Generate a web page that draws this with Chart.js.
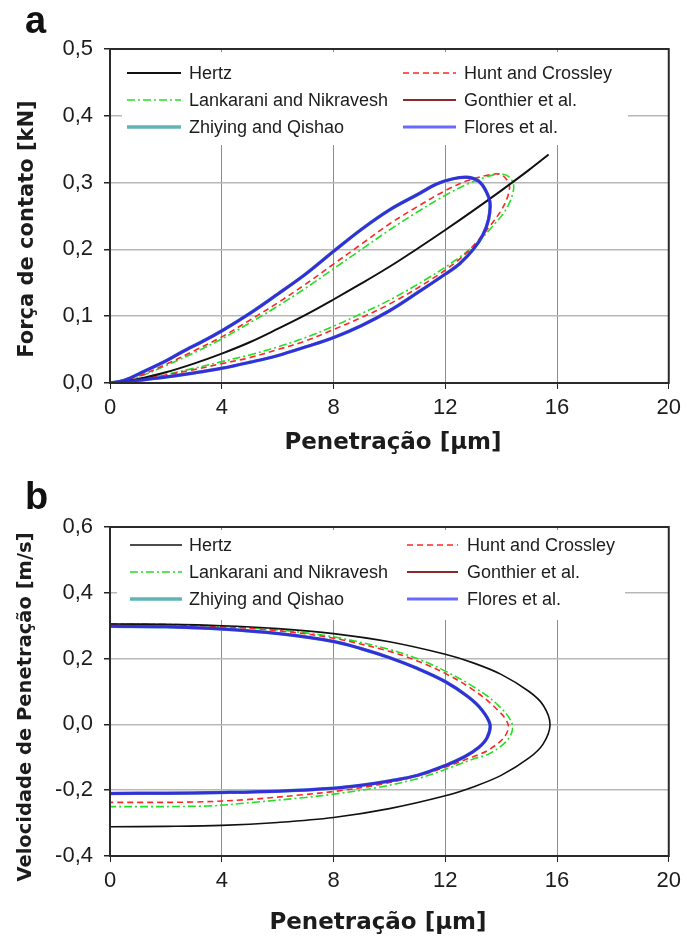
<!DOCTYPE html>
<html>
<head>
<meta charset="utf-8">
<script src="https://cdn.jsdelivr.net/npm/chart.js@4.4.0/dist/chart.umd.min.js"></script>
<style>
  body { margin: 0; background: #fff; }
  #wrap { position: relative; width: 687px; height: 940px; }
  canvas { position: absolute; left: 0; }
</style>
</head>
<body>
<div id="wrap">
  <canvas id="chart-a" width="687" height="470" style="top:0"></canvas>
  <canvas id="chart-b" width="687" height="470" style="top:470px"></canvas>
</div>
<script>
// ---- panel a: contact force vs penetration ----
const hertzPenA = [0, 1, 2, 3, 4, 5, 6, 7, 8, 9, 10, 11, 12, 13, 14, 15, 15.7];
const hertzForceA = [0, 0.006, 0.016, 0.029, 0.044, 0.061, 0.081, 0.102, 0.125, 0.149, 0.174, 0.201, 0.229, 0.258, 0.288, 0.319, 0.342];

const huntPenA = [0, 1, 2, 3, 4, 5, 6, 7, 8, 9, 10, 11, 12, 12.8, 13.5, 13.9, 14.15, 14.3, 14.2, 13.95, 13.6, 13.1, 12.5, 11.5, 10, 9, 8, 7, 6, 5, 4, 3, 2, 1, 0.3];
const huntForceA = [0, 0.01, 0.028, 0.048, 0.069, 0.094, 0.12, 0.148, 0.178, 0.208, 0.238, 0.264, 0.288, 0.303, 0.311, 0.313, 0.307, 0.295, 0.275, 0.255, 0.235, 0.21, 0.185, 0.155, 0.118, 0.098, 0.08, 0.063, 0.05, 0.038, 0.029, 0.02, 0.012, 0.005, 0];

const lankPenA = [0, 1, 2, 3, 4, 5, 6, 7, 8, 9, 10, 11, 12, 12.8, 13.5, 14, 14.3, 14.45, 14.35, 14.1, 13.7, 13.2, 12.5, 11.5, 10, 9, 8, 7, 6, 5, 4, 3, 2, 1, 0.3];
const lankForceA = [0, 0.009, 0.026, 0.045, 0.066, 0.09, 0.115, 0.142, 0.171, 0.2, 0.229, 0.256, 0.281, 0.298, 0.309, 0.313, 0.308, 0.295, 0.275, 0.255, 0.235, 0.212, 0.188, 0.16, 0.124, 0.104, 0.085, 0.068, 0.054, 0.042, 0.032, 0.022, 0.013, 0.006, 0.001];

// Flores, Gonthier and Zhiying lie on top of each other
const floresPenA = [0, 0.5, 1.2, 2, 2.6, 3.3, 4, 5, 6, 7, 8, 9, 10, 11, 11.7, 12.3, 12.8, 13.2, 13.45, 13.6, 13.55, 13.35, 13, 12.5, 12, 11, 10, 9, 8, 7, 6, 5, 4, 3, 2, 1, 0.4];
const floresForceA = [0, 0.004, 0.017, 0.033, 0.047, 0.062, 0.078, 0.104, 0.133, 0.163, 0.197, 0.23, 0.259, 0.282, 0.298, 0.306, 0.308, 0.302, 0.288, 0.27, 0.245, 0.222, 0.2, 0.178, 0.163, 0.135, 0.108, 0.086, 0.068, 0.054, 0.041, 0.031, 0.022, 0.015, 0.009, 0.004, 0.001];

// ---- panel b: penetration velocity vs penetration ----
const hertzPenB = [0, 2, 4, 6, 8, 10, 12, 13, 14, 15, 15.5, 15.75, 15.5, 15, 14, 13, 12, 10, 8, 6, 4, 2, 0];
const hertzVelB = [0.305, 0.304, 0.3, 0.291, 0.276, 0.251, 0.213, 0.187, 0.152, 0.1, 0.059, 0, -0.06, -0.102, -0.155, -0.19, -0.217, -0.256, -0.283, -0.298, -0.307, -0.31, -0.311];

const huntPenB = [0, 2, 4, 6, 8, 10, 11, 12, 13, 13.8, 14.25, 14.1, 13.5, 13, 12, 11, 9.5, 8, 7, 5, 3, 0];
const huntVelB = [0.304, 0.303, 0.297, 0.285, 0.262, 0.222, 0.193, 0.155, 0.105, 0.05, 0, -0.04, -0.08, -0.098, -0.13, -0.157, -0.185, -0.204, -0.213, -0.228, -0.236, -0.237];

const lankPenB = [0, 2, 4, 6, 8, 10, 11, 12, 13, 13.9, 14.4, 14.25, 13.6, 13, 12, 11, 9.5, 8, 7, 5, 3.5, 0];
const lankVelB = [0.305, 0.304, 0.298, 0.287, 0.266, 0.228, 0.2, 0.162, 0.115, 0.058, 0, -0.045, -0.088, -0.105, -0.137, -0.165, -0.193, -0.212, -0.222, -0.238, -0.248, -0.25];

const floresPenB = [0, 2, 4, 6, 8, 9, 10, 11, 12, 12.8, 13.3, 13.6, 13.5, 13.2, 12.7, 12, 11, 10, 9, 8, 6, 4, 2, 0];
const floresVelB = [0.298, 0.297, 0.29, 0.276, 0.252, 0.23, 0.203, 0.17, 0.13, 0.085, 0.045, 0, -0.04, -0.07, -0.098, -0.125, -0.155, -0.172, -0.185, -0.194, -0.203, -0.207, -0.209, -0.21];

const seriesNames = ['Hertz', 'Hunt and Crossley', 'Lankarani and Nikravesh', 'Gonthier et al.', 'Zhiying and Qishao', 'Flores et al.'];
const xTicks = [0, 4, 8, 12, 16, 20];

const TXT = '#1c1c1c';

function pts(xs, ys) {
    return xs.map((x, i) => ({x: x, y: ys[i]}));
}

function makeSets(h, hc, ln, fl, hw) {
    return [
        {label: seriesNames[0], data: h, borderColor: '#111111', borderWidth: hw, order: 2},
        {label: seriesNames[1], data: hc, borderColor: '#ff2626', borderWidth: 1.6, borderDash: [6, 4], order: 3},
        {label: seriesNames[2], data: ln, borderColor: '#22e022', borderWidth: 1.6, borderDash: [8, 3, 2, 3], order: 4},
        {label: seriesNames[3], data: fl, borderColor: '#8b2a2a', borderWidth: 2, order: 5},
        {label: seriesNames[4], data: fl, borderColor: '#5fb5b5', borderWidth: 3.5, order: 6},
        {label: seriesNames[5], data: fl, borderColor: 'rgba(45,45,235,0.9)', borderWidth: 3, order: 1,
         legendColor: '#6a6aff'}
    ];
}

// white legend box inside the plot, frame, panel letter and axis titles
const decor = {
    id: 'decor',
    afterDatasetsDraw(chart, args, o) {
        const ctx = chart.ctx;
        ctx.save();
        ctx.fillStyle = '#fff';
        ctx.fillRect(o.box[0], o.box[1], o.box[2] - o.box[0], o.box[3] - o.box[1]);
        ctx.font = '18px "Liberation Sans", Arial, sans-serif';
        ctx.textBaseline = 'middle';
        ctx.fillStyle = TXT;
        chart.data.datasets.forEach((ds, i) => {
            const row = Math.floor(i / 2), col = o.cols[i % 2];
            const y = o.rows[row];
            ctx.beginPath();
            ctx.strokeStyle = ds.legendColor || ds.borderColor;
            ctx.lineWidth = ds.borderWidth;
            ctx.setLineDash(ds.borderDash || []);
            ctx.moveTo(col[0], y);
            ctx.lineTo(col[1], y);
            ctx.stroke();
            ctx.setLineDash([]);
            ctx.fillText(ds.label, col[2], y + 1);
        });
        ctx.restore();
    },
    afterDraw(chart, args, o) {
        const ctx = chart.ctx;
        const a = chart.chartArea;
        ctx.save();
        ctx.strokeStyle = '#2a2a2a';
        ctx.lineWidth = 2;
        ctx.strokeRect(a.left, a.top, a.right - a.left, a.bottom - a.top);

        ctx.fillStyle = '#111';
        ctx.font = 'bold 38px "Liberation Sans", Arial, sans-serif';
        ctx.textBaseline = 'alphabetic';
        ctx.textAlign = 'left';
        ctx.fillText(o.letter, o.letterPos[0], o.letterPos[1]);

        ctx.fillStyle = TXT;
        ctx.textAlign = 'center';
        ctx.textBaseline = 'middle';
        ctx.font = 'bold 23px "DejaVu Sans", sans-serif';
        ctx.fillText('Penetração [μm]', o.xTitle[0], o.xTitle[1]);

        ctx.translate(o.yTitle[0], o.yTitle[1]);
        ctx.rotate(-Math.PI / 2);
        ctx.font = 'bold ' + o.yTitleSize + 'px "DejaVu Sans", sans-serif';
        ctx.fillText(o.yTitleText, 0, 0);
        ctx.restore();
    }
};

function makeChart(id, sets, yMin, yMax, yStep, area, deco) {
    const H = 470;
    const tickFont = {family: '"Liberation Sans", Arial, sans-serif', size: 22};
    return new Chart(document.getElementById(id), {
        type: 'scatter',
        data: {datasets: sets},
        plugins: [decor],
        options: {
            responsive: false,
            animation: false,
            events: [],
            showLine: true,
            layout: {padding: {top: area.top, right: 687 - area.right, left: 0, bottom: 0}},
            elements: {
                point: {radius: 0},
                line: {tension: 0.35, fill: false}
            },
            plugins: {
                legend: {display: false},
                tooltip: {enabled: false},
                decor: deco
            },
            scales: {
                x: {
                    type: 'linear',
                    min: 0, max: 20,
                    afterBuildTicks: s => { s.ticks = xTicks.map(v => ({value: v})); },
                    ticks: {font: tickFont, color: TXT, padding: 6, maxRotation: 0},
                    grid: {color: '#8c8c8c', lineWidth: 1, tickLength: 6, tickColor: '#222'},
                    border: {color: '#222', width: 2},
                    afterFit: s => { s.height = H - area.bottom; }
                },
                y: {
                    type: 'linear',
                    min: yMin, max: yMax,
                    ticks: {
                        stepSize: yStep, font: tickFont, color: TXT, padding: 11,
                        callback: v => Math.abs(v) < 1e-9 ? '0,0' : v.toFixed(1).replace('.', ',')
                    },
                    grid: {color: '#b8b8b8', lineWidth: 1.5, tickLength: 6, tickColor: '#222'},
                    border: {color: '#222', width: 2},
                    afterFit: s => { s.width = area.left; }
                }
            }
        }
    });
}

makeChart('chart-a',
    makeSets(pts(hertzPenA, hertzForceA), pts(huntPenA, huntForceA), pts(lankPenA, lankForceA), pts(floresPenA, floresForceA), 2),
    0, 0.5, 0.1,
    {left: 110, right: 673, top: 49, bottom: 383},
    {
        box: [122, 52, 628, 145],
        rows: [73, 100, 127],
        cols: [[127, 181, 189], [403, 456, 464]],
        letter: 'a', letterPos: [25, 33],
        xTitle: [393, 443],
        yTitle: [28, 229], yTitleSize: 21, yTitleText: 'Força de contato [kN]'
    });

makeChart('chart-b',
    makeSets(pts(hertzPenB, hertzVelB), pts(huntPenB, huntVelB), pts(lankPenB, lankVelB), pts(floresPenB, floresVelB), 1.6),
    -0.4, 0.6, 0.2,
    {left: 110, right: 674, top: 57, bottom: 386},
    {
        box: [117, 60, 625, 150],
        rows: [75, 102, 129],
        cols: [[130, 182, 189], [407, 458, 467]],
        letter: 'b', letterPos: [25, 39],
        xTitle: [378, 453],
        yTitle: [26, 237], yTitleSize: 19.5, yTitleText: 'Velocidade de Penetração [m/s]'
    });
</script>
</body>
</html>
